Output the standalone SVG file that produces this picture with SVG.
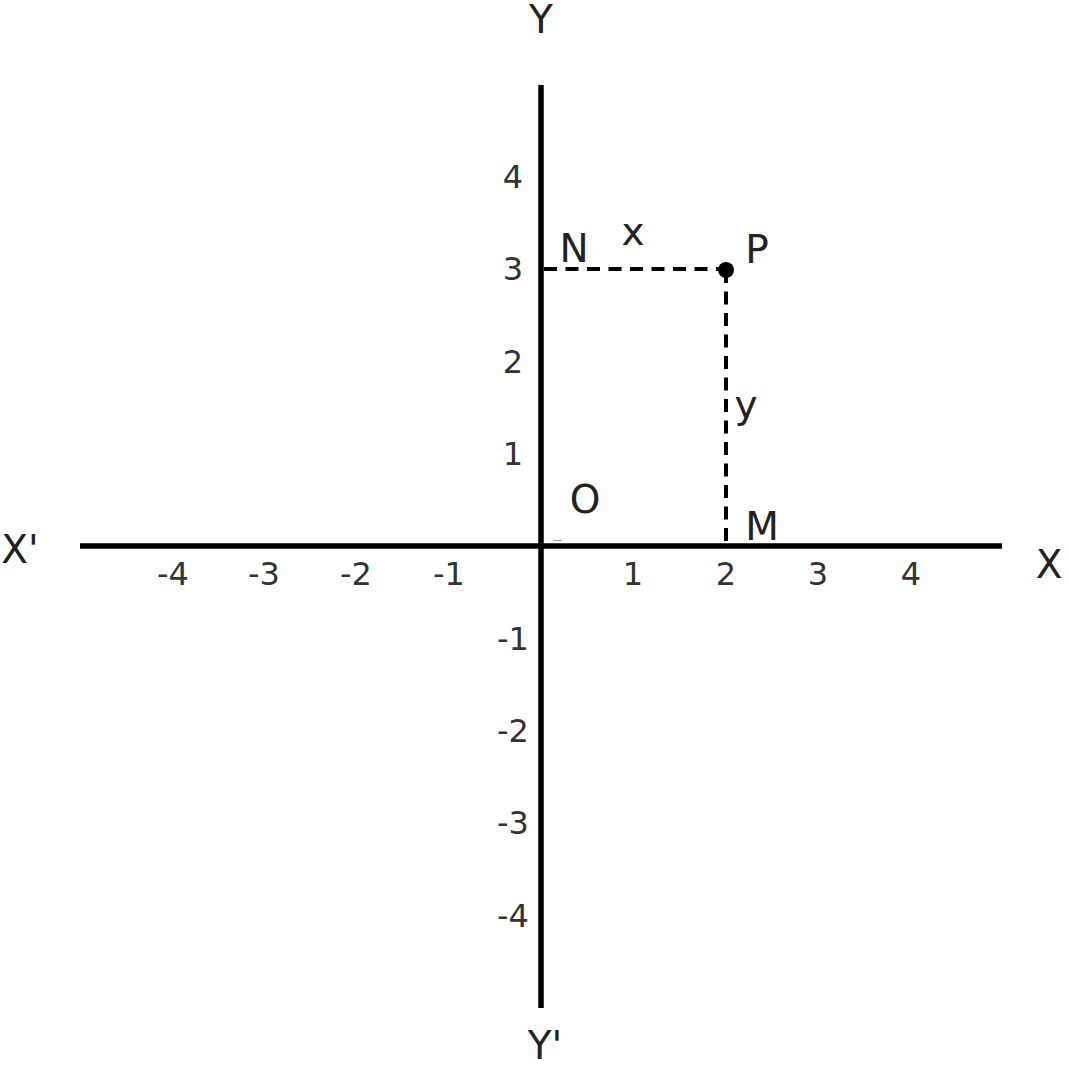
<svg xmlns="http://www.w3.org/2000/svg" width="1069" height="1072" viewBox="0 0 1069 1072">
<style>
.axis{stroke:#000;stroke-width:5.5;fill:none}
.dash{stroke:#000;stroke-width:4;stroke-dasharray:13 8.5;fill:none}
.tick{font-family:"DejaVu Sans",sans-serif;font-size:32px;fill:#333;text-anchor:middle}
.lbl{font-family:"DejaVu Sans",sans-serif;font-size:39px;fill:#222;text-anchor:middle}
</style>
<rect width="1069" height="1072" fill="#fff"/>
<g id="connectors">
<line class="axis" x1="80" y1="546" x2="1002" y2="546"/>
<line class="axis" x1="541" y1="85" x2="541" y2="1008"/>
<line class="dash" x1="544" y1="269" x2="726" y2="269"/>
<line class="dash" x1="726" y1="270" x2="726" y2="544"/>
<line x1="554" y1="540.5" x2="562" y2="540.5" stroke="#999" stroke-width="1"/>
</g>
<g id="P"><circle cx="726" cy="270" r="8" fill="#000"/><text class="lbl" x="757" y="263">P</text></g>
<g id="N"><text class="lbl" x="574" y="262">N</text></g>
<g id="M"><text class="lbl" x="762" y="540">M</text></g>
<g id="O"><text class="lbl" x="585" y="513">O</text></g>
<g id="labels">
<text class="lbl" x="633" y="245">x</text>
<text class="lbl" x="746" y="418">y</text>
<text class="lbl" x="20" y="563">X'</text>
<text class="lbl" x="1049" y="578">X</text>
<text class="lbl" x="541" y="33">Y</text>
<text class="lbl" x="545" y="1059">Y'</text>
</g>
<g id="xticks">
<text class="tick" x="173" y="585">-4</text>
<text class="tick" x="264" y="585">-3</text>
<text class="tick" x="356" y="585">-2</text>
<text class="tick" x="449" y="585">-1</text>
<text class="tick" x="633" y="585">1</text>
<text class="tick" x="726" y="585">2</text>
<text class="tick" x="818" y="585">3</text>
<text class="tick" x="911" y="585">4</text>
</g>
<g id="yticks">
<text class="tick" x="513" y="188">4</text>
<text class="tick" x="513" y="280">3</text>
<text class="tick" x="513" y="373">2</text>
<text class="tick" x="513" y="465">1</text>
<text class="tick" x="513" y="650">-1</text>
<text class="tick" x="513" y="742">-2</text>
<text class="tick" x="513" y="834">-3</text>
<text class="tick" x="513" y="927">-4</text>
</g>
</svg>
